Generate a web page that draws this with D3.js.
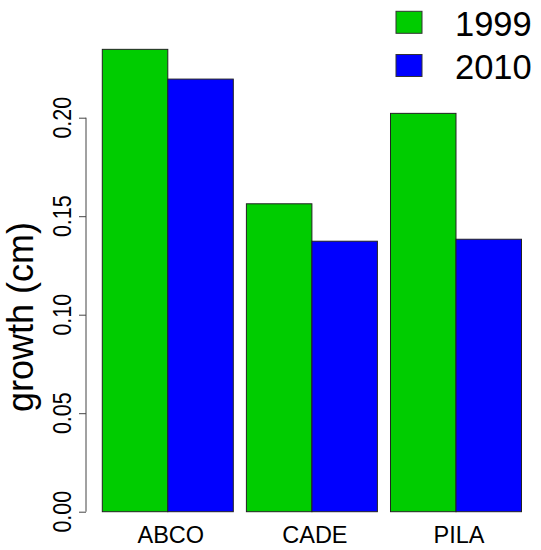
<!DOCTYPE html>
<html>
<head>
<meta charset="utf-8">
<script src="https://cdn.jsdelivr.net/npm/d3@7"></script>
<style>
	body { margin: 0; background: #fff; }
	svg text { font-family: "Liberation Sans", Arial, sans-serif; fill: #000; }
	.bar { stroke: #222; stroke-width: 1px; }
</style>
</head>
<body>
<script>
// species on the x axis
var species = ["ABCO", "CADE", "PILA"];
// survey years (legend / series)
var years = ["1999", "2010"];
// growth in cm
var growth1999 = [0.2347, 0.1563, 0.2022];
var growth2010 = [0.2196, 0.1373, 0.1383];
var yTicks = [0, 0.05, 0.10, 0.15, 0.20];
var colors = ["#00CC00", "#0000FF"];

var width = 541, height = 550;

var svg = d3.select("body").append("svg")
	.attr("width", width)
	.attr("height", height);

// plot region
var y = d3.scaleLinear()
	.domain([0, 0.25])
	.range([511.7, 511.7 - 0.25 * 1970]);

var x0 = d3.scaleBand()
	.domain(species)
	.range([102.3, 521.5])
	.paddingInner(0.0909)
	.paddingOuter(0);

var x1 = d3.scaleBand()
	.domain(years)
	.range([0, x0.bandwidth()]);

var color = d3.scaleOrdinal().domain(years).range(colors);

var rows = species.map(function(s, i) {
	return { name: s, values: [
		{ year: years[0], v: growth1999[i] },
		{ year: years[1], v: growth2010[i] }
	]};
});

var groups = svg.selectAll("g.grp")
	.data(rows)
	.enter()
	.append("g")
	.attr("class", "grp")
	.attr("transform", function(d) { return "translate(" + x0(d.name) + ",0)"; });

groups.selectAll("rect")
	.data(function(d) { return d.values; })
	.enter()
	.append("rect")
	.attr("class", "bar")
	.attr("x", function(d) { return x1(d.year); })
	.attr("width", x1.bandwidth())
	.attr("y", function(d) { return y(d.v); })
	.attr("height", function(d) { return y(0) - y(d.v); })
	.attr("fill", function(d) { return color(d.year); });

// category labels
svg.selectAll("text.cat")
	.data(species)
	.enter()
	.append("text")
	.attr("class", "cat")
	.attr("x", function(d) { return x0(d) + x0.bandwidth() / 2 + 3; })
	.attr("y", 542.5)
	.attr("text-anchor", "middle")
	.style("font-size", "23.5px")
	.text(function(d) { return d; });

// y axis, R style: line only spans the ticks
var yAxis = d3.axisLeft(y)
	.tickValues(yTicks)
	.tickSize(7)
	.tickFormat(d3.format(".2f"));

var ag = svg.append("g")
	.attr("transform", "translate(86,0)")
	.call(yAxis);

ag.select(".domain").remove();
ag.selectAll(".tick line").attr("stroke", "#444");
ag.selectAll(".tick text").remove();

ag.append("line")
	.attr("x1", 0).attr("x2", 0)
	.attr("y1", y(0)).attr("y2", y(0.2))
	.attr("stroke", "#444");

// rotated tick labels (slightly taller glyphs, as in the picture)
svg.selectAll("text.ytick")
	.data(yTicks)
	.enter()
	.append("text")
	.attr("class", "ytick")
	.attr("transform", function(d) { return "translate(70.7," + y(d) + ") rotate(-90) scale(1,1.18)"; })
	.attr("text-anchor", "middle")
	.style("font-size", "21.5px")
	.text(d3.format(".2f"));

svg.append("text")
	.attr("transform", "translate(33,317) rotate(-90)")
	.attr("text-anchor", "middle")
	.style("font-size", "36px")
	.text("growth (cm)");

// legend
var leg = svg.selectAll("g.leg")
	.data(years)
	.enter()
	.append("g")
	.attr("class", "leg")
	.attr("transform", function(d, i) { return "translate(396," + (11.3 + i * 43.2) + ")"; });

leg.append("rect")
	.attr("width", 26)
	.attr("height", 22)
	.attr("fill", function(d) { return color(d); })
	.attr("stroke", "#333");

leg.append("text")
	.attr("x", 59)
	.attr("y", 24.5)
	.style("font-size", "34.5px")
	.text(function(d) { return d; });
</script>
</body>
</html>
